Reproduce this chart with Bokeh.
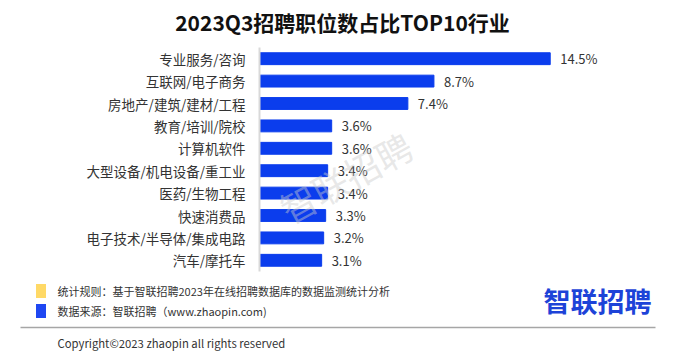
from bokeh.plotting import figure
from bokeh.models import Range1d, FactorRange, Label, ColumnDataSource
from bokeh.layouts import column
from bokeh.embed import file_html
from bokeh.resources import INLINE
from bokeh.core.properties import value

categories = ["专业服务/咨询", "互联网/电子商务", "房地产/建筑/建材/工程", "教育/培训/院校",
              "计算机软件", "大型设备/机电设备/重工业", "医药/生物工程", "快速消费品",
              "电子技术/半导体/集成电路", "汽车/摩托车"]
values = [14.5, 8.7, 7.4, 3.6, 3.6, 3.4, 3.4, 3.3, 3.2, 3.1]
value_labels = [f"{v:.1f}%" for v in values]

title_text = "2023Q3招聘职位数占比TOP10行业"
note_rule = "统计规则：基于智联招聘2023年在线招聘数据库的数据监测统计分析"
note_source = "数据来源：智联招聘（www.zhaopin.com)"
copyright_text = "Copyright©2023 zhaopin all rights reserved"
logo_text = "智联招聘"
watermark_text = "智联招聘"

CJK = value("Noto Sans CJK SC")
BAR = "#0b3ded"
W = 683


def blank(height):
    f = figure(width=W, height=height, output_backend="svg", toolbar_location=None,
               x_range=Range1d(0, W), y_range=Range1d(height, 0),
               x_axis_location=None, y_axis_location=None,
               min_border_left=0, min_border_right=0, min_border_top=0, min_border_bottom=0)
    f.outline_line_color = None
    f.grid.visible = False
    f.frame_align = False
    return f


# header
h = blank(47)
h.text(x=[342], y=[21], text=[title_text], text_align="center", text_baseline="middle",
       text_font=CJK, text_font_size="21px", text_font_style="bold", text_color="#111111")

# chart
src = ColumnDataSource(dict(cat=categories, val=values, lab=value_labels))
p = figure(width=W, height=228, output_backend="svg", toolbar_location=None,
           y_range=FactorRange(factors=list(reversed(categories)), range_padding=0),
           x_range=Range1d(0, 20), x_axis_location=None,
           min_border_left=259, min_border_right=23, min_border_top=0, min_border_bottom=4)
p.frame_align = False
p.outline_line_color = None
p.grid.visible = False

p.hbar(y="cat", right="val", left=0, height=0.53, color=BAR, source=src)
p.text(x="val", y="cat", text="lab", source=src, x_offset=10, text_baseline="middle",
       text_align="left", text_font=CJK, text_font_size="13px", text_color="#333333")

ax = p.yaxis[0]
ax.axis_line_color = "#d9d9d9"
ax.axis_line_width = 2
ax.major_tick_line_color = None
ax.minor_tick_line_color = None
ax.major_tick_in = 0
ax.major_tick_out = 0
ax.major_label_standoff = 14
ax.major_label_text_font = "Noto Sans CJK SC"
ax.major_label_text_font_size = "13.5px"
ax.major_label_text_color = "#333333"

p.add_layout(Label(x=4.29, y=4.24, text=watermark_text, angle=0.5, text_align="center",
                   text_baseline="middle", text_font="Noto Sans CJK SC", text_font_size="36px",
                   text_color="#cccccc", text_alpha=0.45))

# footer
f = blank(76)
f.rect(x=[40.5, 40.5], y=[15.5, 35.5], width=10, height=14,
       fill_color=["#ffd966", "#1f47f2"], line_color=None)
f.text(x=[57, 57], y=[15.5, 35.5], text=[note_rule, note_source], text_baseline="middle",
       text_font=CJK, text_font_size="11px", text_color="#333333")
f.segment(x0=[20], y0=[52], x1=[655], y1=[52], line_color="#a6a6a6", line_width=1.5)
f.text(x=[57], y=[67], text=[copyright_text], text_baseline="middle",
       text_font=CJK, text_font_size="11.3px", text_color="#333333")
f.text(x=[597], y=[24.5], text=[logo_text], text_baseline="middle", text_align="center",
       text_font=CJK, text_font_size="27px", text_font_style="bold", text_color="#1d43d8")

layout = column(h, p, f, spacing=0)
open("out.html", "w").write(file_html(layout, INLINE))
